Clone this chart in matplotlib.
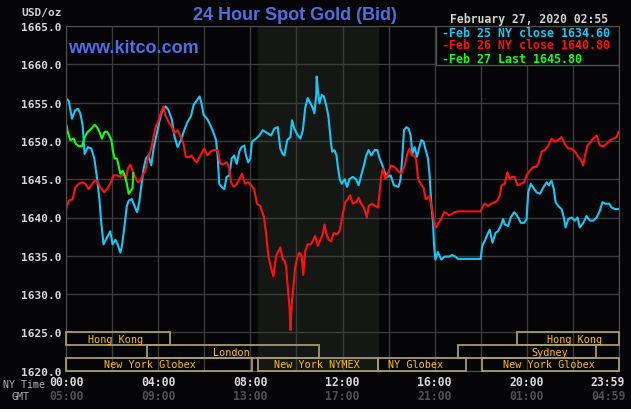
import matplotlib
matplotlib.use("Agg")
import matplotlib.pyplot as plt
from matplotlib.patches import Rectangle

# --- data (hours NY time, USD/oz) ---
feb25_t = [0.0, 0.12, 0.26, 0.40, 0.52, 0.62, 0.72, 0.81, 0.95, 1.10, 1.23, 1.34, 1.45, 1.53, 1.63,
           1.73, 1.92, 2.02, 2.14, 2.24, 2.36, 2.43, 2.54, 2.64, 2.72, 2.86, 3.00, 3.09, 3.18, 3.27,
           3.37, 3.47, 3.58, 3.70, 3.80, 3.92, 4.05, 4.16, 4.33, 4.45, 4.60, 4.70, 4.84, 4.99, 5.13,
           5.28, 5.42, 5.54, 5.68, 5.80, 5.88, 5.97, 6.12, 6.26, 6.41, 6.51, 6.58, 6.65, 6.75, 6.87,
           6.97, 7.09, 7.19, 7.30, 7.41, 7.52, 7.62, 7.74, 7.81, 7.91, 8.00, 8.07, 8.25, 8.39, 8.54,
           8.75, 8.90, 9.04, 9.19, 9.30, 9.40, 9.48, 9.60, 9.74, 9.81, 9.91, 10.06, 10.17, 10.28,
           10.38, 10.49, 10.61, 10.71, 10.78, 10.86, 10.88, 10.93, 11.00, 11.10, 11.19, 11.29,
           11.39, 11.48, 11.55, 11.65, 11.74, 11.80, 11.88, 11.97, 12.09, 12.20, 12.30, 12.45,
           12.59, 12.70, 12.81, 12.93, 13.03, 13.13, 13.25, 13.39, 13.51, 13.61, 13.71, 13.83,
           13.94, 14.09, 14.23, 14.43, 14.52, 14.59, 14.67, 14.77, 14.87, 14.96, 15.03, 15.13,
           15.23, 15.32, 15.42, 15.52, 15.61, 15.71, 15.78, 15.86, 15.93, 15.97, 16.03, 16.14,
           16.29, 16.43, 16.65, 16.75, 16.90, 17.01, 18.00, 18.06, 18.17, 18.29, 18.39, 18.51,
           18.64, 18.75, 18.87, 18.97, 19.04, 19.19, 19.30, 19.45, 19.59, 19.74, 19.88, 19.99,
           20.06, 20.17, 20.28, 20.42, 20.57, 20.71, 20.86, 20.96, 21.07, 21.17, 21.25, 21.36,
           21.51, 21.62, 21.68, 21.80, 21.94, 22.09, 22.20, 22.30, 22.45, 22.59, 22.74, 22.88,
           23.03, 23.17, 23.28, 23.42, 23.57, 23.68, 23.83, 23.98]
feb25_p = [1655.6, 1655.2, 1652.9, 1654.0, 1654.2, 1653.6, 1652.1, 1648.3, 1649.2, 1649.0, 1647.7,
           1645.3, 1642.4, 1639.3, 1636.5, 1637.1, 1638.2, 1636.5, 1637.1, 1636.5, 1635.4, 1636.3,
           1638.9, 1641.5, 1642.2, 1642.4, 1641.3, 1640.7, 1642.0, 1644.2, 1646.4, 1647.7, 1648.1,
           1646.8, 1649.0, 1650.7, 1652.5, 1653.8, 1654.5, 1654.0, 1652.7, 1650.7, 1649.2, 1650.1,
           1651.4, 1652.5, 1653.2, 1654.7, 1655.3, 1655.8, 1654.9, 1653.4, 1652.9, 1652.1, 1651.0,
           1650.1, 1648.1, 1644.4, 1644.0, 1643.7, 1645.3, 1645.5, 1647.7, 1648.1, 1647.0, 1648.6,
           1649.2, 1649.4, 1648.1, 1647.2, 1647.7, 1649.9, 1650.3, 1650.7, 1651.4, 1651.0, 1650.7,
           1651.6, 1651.8, 1649.0, 1648.3, 1648.1, 1650.1, 1650.5, 1652.7, 1651.6, 1650.7, 1650.3,
           1651.4, 1654.3, 1655.6, 1654.9, 1654.3, 1653.6, 1656.0, 1658.4, 1656.7, 1654.9, 1656.0,
           1655.8, 1654.7, 1653.2, 1650.3, 1648.6, 1648.8, 1648.1, 1646.6, 1645.0, 1644.4, 1645.0,
           1644.0, 1645.0, 1645.3, 1645.0, 1644.2, 1645.5, 1646.8, 1648.1, 1648.8, 1648.1, 1648.8,
           1648.8, 1647.7, 1647.0, 1645.9, 1645.3, 1645.5, 1644.2, 1644.0, 1645.0, 1647.7, 1651.4,
           1651.8, 1651.6, 1650.7, 1648.3, 1649.2, 1647.9, 1649.0, 1650.1, 1649.9, 1648.8, 1647.7,
           1645.5, 1641.5, 1639.3, 1636.5, 1634.5, 1635.5, 1634.5, 1634.9, 1634.9, 1635.1, 1634.9,
           1634.6, 1634.6, 1636.3, 1636.9, 1637.8, 1638.4, 1636.7, 1638.0, 1638.2, 1638.9, 1639.8,
           1639.1, 1638.9, 1640.0, 1640.7, 1640.2, 1639.3, 1639.3, 1639.8, 1643.3, 1644.4, 1643.9,
           1643.3, 1643.1, 1643.9, 1644.6, 1644.2, 1644.8, 1643.7, 1642.0, 1641.5, 1641.1, 1639.8,
           1638.7, 1639.8, 1640.0, 1639.6, 1640.0, 1638.7, 1639.3, 1640.2, 1639.6, 1639.6, 1640.0,
           1640.9, 1642.0, 1641.8, 1641.8, 1641.3, 1641.1, 1641.1]

feb26_t = [0.0, 0.12, 0.29, 0.40, 0.55, 0.72, 0.84, 0.98, 1.10, 1.24, 1.34, 1.49, 1.66, 1.78, 1.92,
           2.07, 2.21, 2.36, 2.50, 2.60, 2.69, 2.79, 2.89, 3.00, 3.12, 3.22, 3.32, 3.44, 3.55, 3.66,
           3.76, 3.87, 4.02, 4.13, 4.23, 4.31, 4.45, 4.60, 4.70, 4.84, 4.99, 5.10, 5.20, 5.35, 5.45,
           5.57, 5.68, 5.83, 6.00, 6.14, 6.26, 6.41, 6.58, 6.70, 6.84, 6.99, 7.09, 7.16, 7.28, 7.42,
           7.52, 7.64, 7.77, 7.91, 8.03, 8.17, 8.29, 8.43, 8.58, 8.68, 8.78, 8.90, 9.00, 9.12, 9.22,
           9.30, 9.41, 9.50, 9.55, 9.62, 9.70, 9.74, 9.80, 9.87, 9.94, 10.03, 10.13, 10.23, 10.30,
           10.38, 10.49, 10.61, 10.71, 10.81, 10.93, 11.04, 11.14, 11.22, 11.29, 11.39, 11.51,
           11.62, 11.77, 11.87, 11.94, 12.03, 12.12, 12.23, 12.33, 12.45, 12.59, 12.70, 12.81,
           12.93, 13.06, 13.14, 13.28, 13.42, 13.54, 13.61, 13.68, 13.75, 13.86, 13.97, 14.09,
           14.26, 14.41, 14.55, 14.70, 14.81, 14.91, 15.01, 15.13, 15.20, 15.28, 15.39, 15.52,
           15.61, 15.71, 15.78, 15.86, 15.93, 16.00, 16.07, 16.17, 16.29, 16.41, 16.51, 16.61,
           16.72, 16.87, 17.01, 18.00, 18.06, 18.17, 18.32, 18.46, 18.61, 18.72, 18.83, 18.90,
           19.04, 19.16, 19.26, 19.36, 19.48, 19.59, 19.74, 19.88, 19.99, 20.13, 20.28, 20.42,
           20.52, 20.64, 20.78, 20.93, 21.07, 21.22, 21.36, 21.51, 21.65, 21.80, 21.94, 22.09,
           22.23, 22.35, 22.45, 22.52, 22.64, 22.78, 22.88, 23.03, 23.17, 23.32, 23.46, 23.61,
           23.75, 23.90, 23.98]
feb26_p = [1641.1, 1642.2, 1642.4, 1643.9, 1644.4, 1644.6, 1644.4, 1643.7, 1644.2, 1644.8, 1644.8,
           1643.9, 1643.3, 1643.7, 1644.4, 1645.5, 1645.5, 1645.3, 1645.7, 1645.0, 1646.4, 1646.9,
           1646.1, 1645.3, 1644.6, 1644.8, 1645.5, 1646.1, 1647.7, 1648.6, 1649.9, 1651.6, 1652.7,
           1653.8, 1654.5, 1653.4, 1652.5, 1651.8, 1651.0, 1651.4, 1650.5, 1649.6, 1647.9, 1647.9,
           1648.1, 1647.5, 1647.2, 1648.1, 1649.0, 1648.1, 1648.6, 1648.8, 1648.8, 1647.0, 1647.0,
           1647.2, 1646.4, 1644.6, 1644.0, 1644.4, 1645.0, 1645.7, 1644.4, 1644.6, 1644.2, 1643.7,
           1641.8, 1641.5, 1640.2, 1638.0, 1635.0, 1633.4, 1632.3, 1635.0, 1635.6, 1636.1, 1634.5,
           1634.3, 1633.6, 1631.0, 1628.2, 1625.3, 1628.8, 1631.0, 1633.4, 1634.7, 1635.4, 1634.9,
           1632.5, 1635.6, 1636.5, 1636.5, 1636.9, 1637.6, 1636.3, 1637.1, 1637.8, 1639.1, 1638.0,
           1637.1, 1636.9, 1638.0, 1637.8, 1638.2, 1639.3, 1640.7, 1642.0, 1642.4, 1642.9, 1641.8,
           1642.0, 1642.6, 1641.8, 1641.3, 1640.0, 1641.5, 1641.8, 1641.5, 1641.3, 1643.3, 1645.3,
           1646.4, 1645.0, 1645.7, 1646.8, 1646.6, 1646.1, 1645.7, 1646.8, 1648.3, 1649.0, 1648.1,
           1648.1, 1647.5, 1645.0, 1644.4, 1643.9, 1642.4, 1642.6, 1642.8, 1641.5, 1640.2, 1638.9,
           1638.7, 1639.3, 1639.8, 1640.7, 1640.6, 1640.3, 1640.4, 1640.7, 1640.8, 1640.8, 1641.3,
           1641.8, 1641.5, 1641.8, 1642.0, 1642.2, 1642.9, 1644.2, 1644.4, 1645.9, 1645.0, 1645.3,
           1645.3, 1644.2, 1644.4, 1644.6, 1645.5, 1646.1, 1646.6, 1646.6, 1647.2, 1648.6, 1648.8,
           1649.4, 1650.3, 1649.9, 1650.1, 1650.5, 1649.6, 1649.0, 1649.0, 1648.6, 1647.9, 1647.5,
           1646.8, 1648.1, 1649.4, 1649.9, 1650.3, 1650.7, 1649.4, 1649.3, 1649.6, 1650.1, 1650.3,
           1650.5, 1651.2]

feb27_t = [0.0, 0.09, 0.19, 0.33, 0.43, 0.55, 0.69, 0.81, 0.95, 1.10, 1.24, 1.34, 1.45, 1.56, 1.68,
           1.78, 1.88, 1.97, 2.04, 2.11, 2.21, 2.28, 2.36, 2.46, 2.57, 2.64, 2.72, 2.82, 2.89, 2.92]
feb27_p = [1652.3, 1651.0, 1650.1, 1650.3, 1649.6, 1649.3, 1649.3, 1650.5, 1651.2, 1651.6, 1652.1,
           1651.8, 1651.2, 1650.3, 1651.2, 1651.2, 1650.7, 1650.1, 1648.6, 1647.7, 1647.7, 1646.8,
           1645.7, 1646.1, 1645.3, 1644.4, 1643.1, 1643.5, 1643.9, 1645.8]

legend_text = ['-Feb 25 NY close 1634.60', '-Feb 26 NY close 1640.80', '-Feb 27 Last 1645.80']
line_colors = ['#14c8f8', '#ff1010', '#10ff10']

ny_ticks = [0, 4, 8, 12, 16, 20, 23.52]
ny_labels = ['00:00', '04:00', '08:00', '12:00', '16:00', '20:00', '23:59']
gmt_labels = ['05:00', '09:00', '13:00', '17:00', '21:00', '01:00', '04:59']

# market sessions: (row, start, end, label, label centre)
sessions = [
    (0, 0.0, 4.5, 'Hong Kong', 2.16),
    (0, 19.56, 24.0, 'Hong Kong', 22.05),
    (1, 3.53, 11.0, 'London', 7.16),
    (1, 17.03, 22.99, 'Sydney', 20.98),
    (2, 0.0, 8.06, 'New York Globex', 3.65),
    (2, 8.33, 13.53, 'New York NYMEX', 10.89),
    (2, 13.55, 17.37, 'NY Globex', 15.19),
    (2, 18.07, 24.0, 'New York Globex', 20.96),
]

BG = '#050508'
MONO = 'DejaVu Sans Mono'

fig = plt.figure(figsize=(6.31, 4.14), dpi=100, facecolor=BG)
ax = fig.add_axes([66 / 631, 42.3 / 414, 553 / 631, 344.7 / 414])
ax.set_facecolor(BG)
ax.set_xlim(0, 24)
ax.set_ylim(1620, 1665)

ax.axvspan(8.33, 13.55, color='#141714', zorder=0)
ax.set_xticks(range(0, 25, 2))
ax.set_yticks(range(1620, 1666, 5))
ax.set_yticklabels([f'{v:.1f}' for v in range(1620, 1666, 5)],
                   family=MONO, weight='bold', color='#d8d8d8', fontsize=8)
ax.grid(True, color='#3c3c3c', lw=1)
ax.tick_params(length=0, labelbottom=False, pad=3)
for s in ax.spines.values():
    s.set_color('#505050')

ax.plot(feb25_t, feb25_p, color=line_colors[0], lw=1.5, zorder=2)
ax.plot(feb26_t, feb26_p, color=line_colors[1], lw=1.5, zorder=2.1)
ax.plot(feb27_t, feb27_p, color=line_colors[2], lw=1.5, zorder=2.2)

# session bands at the bottom
row_h = 5 / 3
for row, t0, t1, name, tc in sessions:
    y0 = 1625 - (row + 1) * row_h
    ax.add_patch(Rectangle((t0, y0), t1 - t0, row_h, fill=False, edgecolor='#a49c68',
                           lw=1.3, zorder=3, clip_on=False))
    ax.text(tc, y0 + row_h / 2, name, color='#ffc000', family=MONO, fontsize=7.3,
            ha='center', va='center', zorder=4)

# legend box
ax.add_patch(Rectangle((0.669, 0.887), 0.331, 0.113, transform=ax.transAxes,
                       facecolor=BG, edgecolor='#505050', lw=1, zorder=5))
for i, (txt, c) in enumerate(zip(legend_text, line_colors)):
    ax.text(0.680, [0.980, 0.945, 0.907][i], txt, transform=ax.transAxes, color=c,
            family=MONO, weight='bold', fontsize=8.4, ha='left', va='center', zorder=6)

ax.text(0.0036, 0.939, 'www.kitco.com', transform=ax.transAxes, color='#4d6fe6',
        fontsize=13, weight='bold', family='Liberation Sans', ha='left', va='center', zorder=6)

# titles and labels
fig.text(295 / 631, 1 - 16 / 414, '24 Hour Spot Gold (Bid)', color='#4d6fe6', fontsize=13,
         weight='bold', family='Liberation Sans', ha='center', va='center')
fig.text(608 / 631, 1 - 20 / 414, 'February 27, 2020 02:55', color='#d0d0d0', family=MONO,
         weight='bold', fontsize=8.3, ha='right', va='center')
fig.text(62 / 631, 1 - 13 / 414, 'USD/oz', color='#d0d0d0', family=MONO, weight='bold',
         fontsize=8, ha='right', va='center')
fig.text(3 / 631, 1 - 385 / 414, 'NY Time', color='#b0b0b0', family=MONO, fontsize=7.2,
         ha='left', va='center')
fig.text(12 / 631, 1 - 397 / 414, 'GMT', color='#b0b0b0', family=MONO, fontsize=7.2,
         ha='left', va='center')

for t, a, b in zip(ny_ticks, ny_labels, gmt_labels):
    xf = (66 + t * 553 / 24) / 631
    fig.text(xf, 1 - 382.7 / 414, a, color='#d8d8d8', family=MONO, weight='bold',
             fontsize=8.3, ha='center', va='center')
    fig.text(xf, 1 - 397 / 414, b, color='#505050', family=MONO, weight='bold',
             fontsize=8.3, ha='center', va='center')

# white strip at the very bottom
fig.patches.append(Rectangle((0, 0), 1, 4 / 414, transform=fig.transFigure,
                             facecolor='white', edgecolor='none'))

fig.savefig('out.png', dpi=100, facecolor=BG)
